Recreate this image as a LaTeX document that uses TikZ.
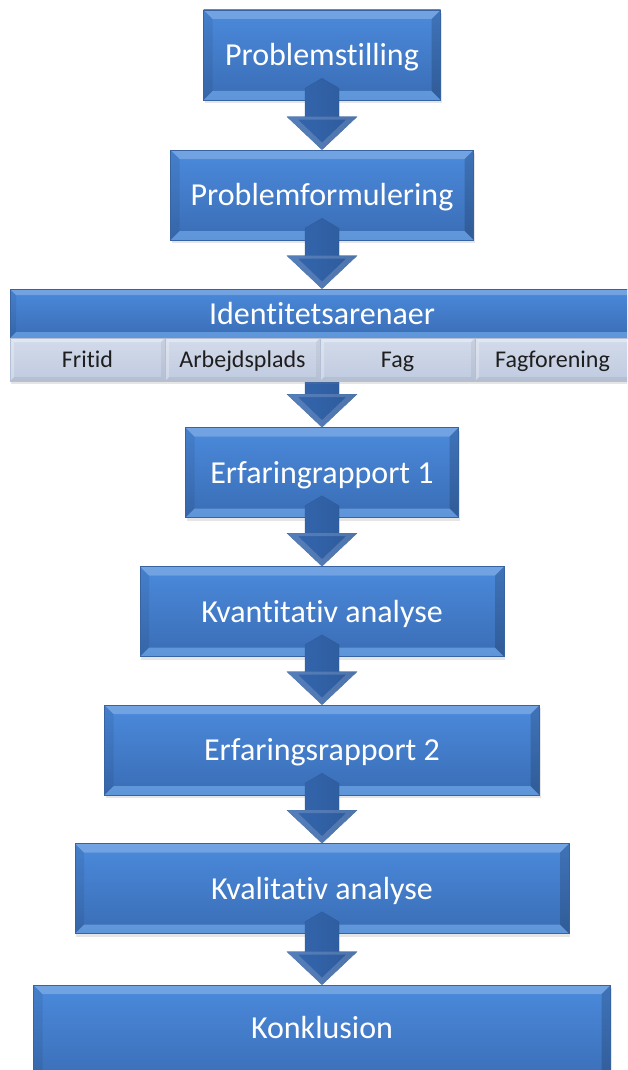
\documentclass[tikz,border=0pt]{standalone}
\usepackage{fontspec}
\setmainfont{Carlito}[Ligatures=NoCommon]
\usetikzlibrary{calc,shadows}
\definecolor{bxtop}{HTML}{4B8ADC}
\definecolor{bxbot}{HTML}{3A6DB5}
\definecolor{bxborder}{HTML}{3863A3}
\definecolor{bxbevel}{HTML}{7DB8F7}
\definecolor{celltop}{HTML}{D3DBEA}
\definecolor{cellbot}{HTML}{C0CBE0}
\definecolor{cellborder}{HTML}{B3C0D6}
\definecolor{celltext}{HTML}{1E1E1E}
\definecolor{arrL}{HTML}{3567AF}
\definecolor{arrM}{HTML}{4D86D3}
\definecolor{arrR}{HTML}{2D5A9B}
\tikzset{
  bevel/.style={path picture={
    \fill[white,opacity=.22] (path picture bounding box.north west) -- (path picture bounding box.north east)
      -- ([shift={(-#1,-#1)}]path picture bounding box.north east) -- ([shift={(#1,-#1)}]path picture bounding box.north west) -- cycle;
    \fill[bxbevel,opacity=.55] (path picture bounding box.south west) -- (path picture bounding box.south east)
      -- ([shift={(-#1,#1)}]path picture bounding box.south east) -- ([shift={(#1,#1)}]path picture bounding box.south west) -- cycle;
    \fill[black,opacity=.07] (path picture bounding box.north west) -- (path picture bounding box.south west)
      -- ([shift={(#1,#1)}]path picture bounding box.south west) -- ([shift={(#1,-#1)}]path picture bounding box.north west) -- cycle;
    \fill[black,opacity=.16] (path picture bounding box.north east) -- (path picture bounding box.south east)
      -- ([shift={(-#1,#1)}]path picture bounding box.south east) -- ([shift={(-#1,-#1)}]path picture bounding box.north east) -- cycle;
  }},
  cellbevel/.style={path picture={
    \fill[white,opacity=.35] (path picture bounding box.north west) -- (path picture bounding box.north east)
      -- ([shift={(-#1,-#1)}]path picture bounding box.north east) -- ([shift={(#1,-#1)}]path picture bounding box.north west) -- cycle;
    \fill[white,opacity=.25] (path picture bounding box.north west) -- (path picture bounding box.south west)
      -- ([shift={(#1,#1)}]path picture bounding box.south west) -- ([shift={(#1,-#1)}]path picture bounding box.north west) -- cycle;
    \fill[black,opacity=.05] (path picture bounding box.north east) -- (path picture bounding box.south east)
      -- ([shift={(-#1,#1)}]path picture bounding box.south east) -- ([shift={(-#1,-#1)}]path picture bounding box.north east) -- cycle;
    \fill[black,opacity=.06] (path picture bounding box.south west) -- (path picture bounding box.south east)
      -- ([shift={(-#1,#1)}]path picture bounding box.south east) -- ([shift={(#1,#1)}]path picture bounding box.south west) -- cycle;
  }},
  mainbox/.style={draw=bxborder, line width=0.6pt, top color=bxtop, bottom color=bxbot,
    minimum height=90pt, inner sep=0pt, text=white, font=\fontsize{32}{36}\selectfont,
    text height=21pt, text depth=0pt,
    drop shadow={opacity=.2,shadow xshift=1pt,shadow yshift=-3pt}, bevel=9pt},
  maintext/.style={text=white, font=\fontsize{32}{36}\selectfont, text height=21pt, text depth=0pt, inner sep=0pt},
  cellbox/.style={draw=cellborder, line width=0.5pt, top color=celltop, bottom color=cellbot,
    minimum height=43pt, minimum width=155pt, inner sep=0pt, text=celltext,
    font=\fontsize{24}{28}\selectfont, text height=15.5pt, text depth=0pt,
    drop shadow={opacity=.2,shadow xshift=1pt,shadow yshift=-3pt}, cellbevel=4pt},
  celltext/.style={text=celltext, font=\fontsize{24}{28}\selectfont, text height=15.5pt, text depth=0pt, inner sep=0pt},
  arrowbody/.style={left color=arrL, middle color=arrM, right color=arrR, draw=arrR, line width=0.3pt},
  arrowrim/.style={white, opacity=.16, even odd rule},
}
\newcommand\flowarrow[2]{%
  \shade[arrowbody]
    ($(#1)+(0,-22)$) -- ($(#1)+(17,-12)$) -- ($(#2)+(17,-33)$) -- ($(#2)+(35,-33)$)
    -- (#2) -- ($(#2)+(-35,-33)$) -- ($(#2)+(-17,-33)$) -- ($(#1)+(-17,-12)$) -- cycle;
  \fill[arrowrim]
    ($(#2)+(35,-33)$) -- (#2) -- ($(#2)+(-35,-33)$) -- cycle
    ($(#2)+(24,-30)$) -- ($(#2)+(0,-7)$) -- ($(#2)+(-24,-30)$) -- cycle;
}
\begin{document}
\begin{tikzpicture}[x=1pt,y=-1pt]
  \useasboundingbox (0,0) rectangle (627,1070);
  \clip (0,0) rectangle (627,1070);
  \fill[white] (0,0) rectangle (627,1070);

  \node[mainbox, minimum width=237pt] (b1) at (322,55) {Problemstilling};
  \node[mainbox, minimum width=303pt] (b2) at (322,195) {Problemformulering};
  \node[mainbox, minimum width=640pt, minimum height=49pt, bevel=6pt] (hdr) at (330,313.5) {};
  \node[maintext] (hdrt) at (322,313.5) {Identitetsarenaer};
  \node[mainbox, minimum width=273pt] (b3) at (322,472.5) {Erfaringrapport 1};
  \node[mainbox, minimum width=364pt] (b4) at (322,611.5) {Kvantitativ analyse};
  \node[mainbox, minimum width=435pt] (b5) at (322,750) {Erfaringsrapport 2};
  \node[mainbox, minimum width=494pt] (b6) at (322,888.5) {Kvalitativ analyse};
  \node[mainbox, minimum width=577pt, minimum height=100pt] (b7) at (322,1035) {};
  \node[maintext] (b7t) at (322,1028) {Konklusion};

  \coordinate (band) at (322,381);
  \flowarrow{band}{b3.north}

  \node[cellbox] (c1) at (87.5,359.5) {Fritid};
  \node[cellbox] (c2) at (242.5,359.5) {Arbejdsplads};
  \node[cellbox] (c3) at (397.5,359.5) {Fag};
  \node[cellbox, minimum width=160pt] (c4) at (555,359.5) {};
  \node[celltext] (c4t) at (552.5,359.5) {Fagforening};

  \flowarrow{b1.south}{b2.north}
  \flowarrow{b2.south}{hdr.north -| b2.south}
  \flowarrow{b3.south}{b4.north}
  \flowarrow{b4.south}{b5.north}
  \flowarrow{b5.south}{b6.north}
  \flowarrow{b6.south}{b7.north}
\end{tikzpicture}
\end{document}
